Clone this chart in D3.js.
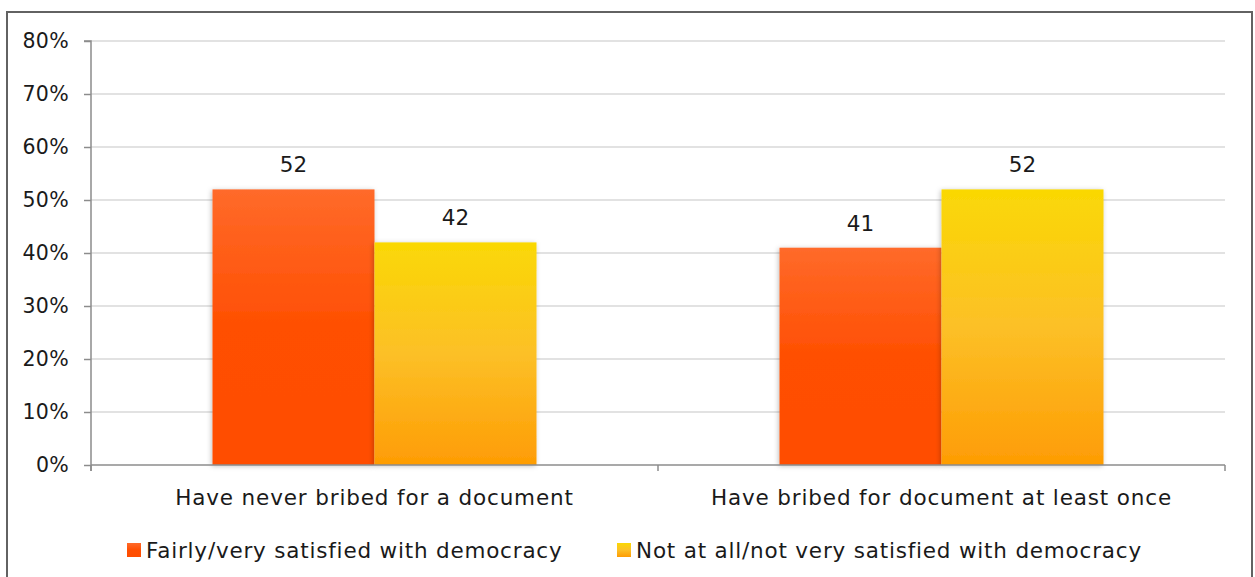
<!DOCTYPE html>
<html>
<head>
<meta charset="utf-8">
<script src="https://cdn.jsdelivr.net/npm/d3@7"></script>
<style>
  html, body { margin: 0; padding: 0; background: #fff; }
  svg { display: block; }
  text { font-family: "DejaVu Sans", sans-serif; fill: #1a1a1a; }
</style>
</head>
<body>
<svg id="chart" width="1255" height="577"></svg>
<script>
// Satisfaction with democracy by bribery experience (%)
const categories = ["Have never bribed for a document", "Have bribed for document at least once"];
const seriesNames = ["Fairly/very satisfied with democracy", "Not at all/not very satisfied with democracy"];
const satisfied = [52, 41];
const notSatisfied = [42, 52];
const yTicks = [0, 10, 20, 30, 40, 50, 60, 70, 80];

const svg = d3.select("#chart");
const m = { left: 91, top: 41 };
const plotR = 1225, plotB = 465;
const FS = 21.5;

// gradients for the two series
const defs = svg.append("defs");
const gradOrange = defs.append("linearGradient").attr("id", "gOrange")
  .attr("x1", 0).attr("y1", 0).attr("x2", 0).attr("y2", 1);
gradOrange.append("stop").attr("offset", "0%").attr("stop-color", "#ff6a2a");
gradOrange.append("stop").attr("offset", "50%").attr("stop-color", "#ff4f02");
gradOrange.append("stop").attr("offset", "100%").attr("stop-color", "#ff4d00");
const gradYellow = defs.append("linearGradient").attr("id", "gYellow")
  .attr("x1", 0).attr("y1", 0).attr("x2", 0).attr("y2", 1);
gradYellow.append("stop").attr("offset", "0%").attr("stop-color", "#fad804");
gradYellow.append("stop").attr("offset", "50%").attr("stop-color", "#fcc027");
gradYellow.append("stop").attr("offset", "100%").attr("stop-color", "#fe9c04");

const shadow = defs.append("filter").attr("id", "shadow")
  .attr("x", "-10%").attr("y", "-10%").attr("width", "120%").attr("height", "120%");
shadow.append("feDropShadow").attr("dx", -1).attr("dy", 1).attr("stdDeviation", 2.5)
  .attr("flood-color", "#000").attr("flood-opacity", 0.25);

// outer frame
svg.append("rect").attr("x", 7).attr("y", 12).attr("width", 1245).attr("height", 580)
  .attr("fill", "#fff").attr("stroke", "#626262").attr("stroke-width", 2);

const x0 = d3.scaleBand().domain(categories).range([m.left, plotR]).paddingInner(0).paddingOuter(0);
const x1 = d3.scaleBand().domain(seriesNames).range([0, x0.bandwidth()]).paddingInner(0).paddingOuter(0.75);
const y = d3.scaleLinear().domain([0, 80]).range([plotB, m.top]);

// gridlines
svg.append("g").selectAll("line").data(yTicks.filter(d => d > 0)).join("line")
  .attr("x1", m.left).attr("x2", plotR)
  .attr("y1", d => y(d)).attr("y2", d => y(d))
  .attr("stroke", "#d9d9d9").attr("stroke-width", 1.5);

// y axis
const yAxis = svg.append("g").attr("transform", `translate(${m.left},0)`)
  .call(d3.axisLeft(y).tickValues(yTicks).tickFormat(d => d + "%").tickSize(7).tickPadding(15));
yAxis.select(".domain").attr("stroke", "#8c8c8c").attr("stroke-width", 1.5).attr("d", `M-7,${m.top}H0V${plotB + 6}`);
yAxis.selectAll(".tick line").attr("stroke", "#8c8c8c").attr("stroke-width", 1.5);
yAxis.selectAll(".tick text").attr("font-size", 20.5).attr("fill", "#1a1a1a")
  .style("font-family", "'DejaVu Sans', sans-serif").attr("letter-spacing", 0.3);

// bars
const rows = categories.map((c, i) => ({ cat: c, vals: [satisfied[i], notSatisfied[i]] }));
const fills = ["url(#gOrange)", "url(#gYellow)"];
const groups = svg.append("g").selectAll("g").data(rows).join("g")
  .attr("transform", d => `translate(${x0(d.cat)},0)`);
groups.selectAll("rect").data(d => d.vals.map((v, j) => ({ v, j }))).join("rect")
  .attr("x", d => x1(seriesNames[d.j]))
  .attr("width", x1.bandwidth())
  .attr("y", d => y(d.v))
  .attr("height", d => plotB - y(d.v))
  .attr("fill", d => fills[d.j])
  .attr("filter", "url(#shadow)");
groups.selectAll("text").data(d => d.vals.map((v, j) => ({ v, j }))).join("text")
  .attr("x", d => x1(seriesNames[d.j]) + x1.bandwidth() / 2)
  .attr("y", d => y(d.v) - 17)
  .attr("text-anchor", "middle").attr("font-size", FS)
  .text(d => d.v);

// x axis
const xAxis = svg.append("g").attr("transform", `translate(0,${plotB})`);
xAxis.append("line").attr("x1", m.left).attr("x2", plotR).attr("stroke", "#8c8c8c").attr("stroke-width", 1.5);
xAxis.selectAll("line.tk").data([m.left, x0(categories[1]), plotR]).join("line").attr("class", "tk")
  .attr("x1", d => d).attr("x2", d => d).attr("y1", 0).attr("y2", 6)
  .attr("stroke", "#8c8c8c").attr("stroke-width", 1.5);
xAxis.selectAll("text").data(categories).join("text")
  .attr("x", d => x0(d) + x0.bandwidth() / 2).attr("y", 40)
  .attr("text-anchor", "middle").attr("font-size", FS).attr("letter-spacing", 0.85)
  .text(d => d);

// legend
const legendX = [127, 617];
const legendFill = ["url(#gOrange)", "url(#gYellow)"];
const legend = svg.append("g").selectAll("g").data(seriesNames).join("g")
  .attr("transform", (d, i) => `translate(${legendX[i]},543)`);
legend.append("rect").attr("width", 14).attr("height", 14).attr("fill", (d, i) => legendFill[i]);
legend.append("text").attr("x", 19).attr("y", 15).attr("font-size", FS).attr("letter-spacing", 0.8).text(d => d);
</script>
</body>
</html>
